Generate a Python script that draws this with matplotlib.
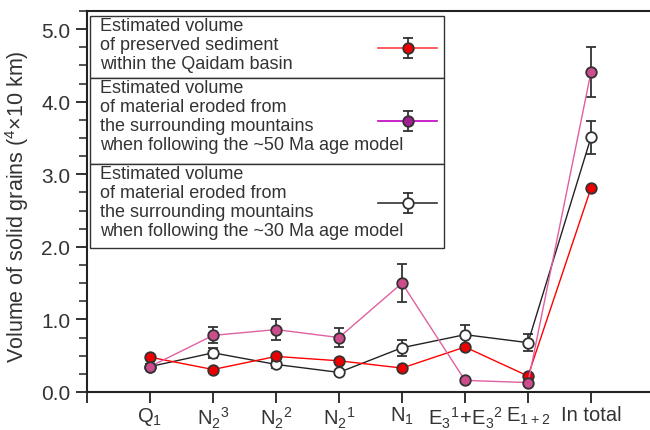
import matplotlib
matplotlib.use("Agg")
import matplotlib.pyplot as plt
from matplotlib.lines import Line2D
from matplotlib.patches import Rectangle
from matplotlib.ticker import MultipleLocator, FormatStrFormatter

plt.rcParams['font.family'] = ['Liberation Sans', 'DejaVu Sans']
plt.rcParams['text.color'] = '#333333'
plt.rcParams['axes.labelcolor'] = '#333333'

# stratigraphic units + total
units = [r'$\mathregular{Q_1}$',
         r'$\mathregular{N_2{}^3}$',
         r'$\mathregular{N_2{}^2}$',
         r'$\mathregular{N_2{}^1}$',
         r'$\mathregular{N_1}$',
         r'$\mathregular{E_3{}^1\!+\!E_3{}^2}$',
         r'$\mathregular{E_{1+2}}$',
         'In total']

# volumes (x10^4 km^3)
preserved = [0.48, 0.31, 0.49, 0.43, 0.33, 0.62, 0.22, 2.81]
eroded_50 = [0.35, 0.78, 0.86, 0.75, 1.50, 0.16, 0.13, 4.41]
eroded_50_err = [0.03, 0.11, 0.15, 0.13, 0.26, 0.0, 0.0, 0.35]
eroded_30 = [0.35, 0.54, 0.38, 0.27, 0.61, 0.79, 0.68, 3.51]
eroded_30_err = [0.03, 0.07, 0.05, 0.04, 0.11, 0.14, 0.115, 0.23]

W, H = 650, 431
fig = plt.figure(figsize=(W / 100, H / 100), dpi=100)
ax = fig.add_axes([87 / W, 38 / H, 598.5 / W, 381 / H])

x = list(range(1, len(units) + 1))
edge = '#333333'
ms = 7.6

ax.errorbar(x, eroded_30, yerr=eroded_30_err, color='#222222', lw=1.0,
            marker='o', ms=ms, mfc='white', mec=edge, mew=1.3,
            ecolor=edge, elinewidth=1.3, capsize=3.3, capthick=1.3, zorder=3)
ax.plot(x, preserved, color='#ff0000', lw=1.0, marker='o', ms=ms,
        mfc='#ee0000', mec=edge, mew=1.3, zorder=4)
ax.errorbar(x, eroded_50, yerr=eroded_50_err, color='#e060a0', lw=1.0,
            marker='o', ms=ms, mfc='#cc4c8c', mec=edge, mew=1.3,
            ecolor=edge, elinewidth=1.3, capsize=3.3, capthick=1.3, zorder=5)

ax.set_xlim(0, 9.5)
ax.set_ylim(0, 5.25)
ax.set_xticks(range(0, 9))
ax.set_xticklabels([''] + units)
ax.yaxis.set_major_locator(MultipleLocator(1))
ax.yaxis.set_minor_locator(MultipleLocator(0.25))
ax.yaxis.set_major_formatter(FormatStrFormatter('%.1f'))
ax.tick_params(axis='both', which='major', labelsize=15, length=8,
               width=1.3, color='#222222', labelcolor='#333333', pad=4)
ax.tick_params(axis='y', which='minor', length=6, width=1.1, color='#222222')
ax.tick_params(axis='x', pad=1.5, labelsize=14.5)
for s in ['left', 'top', 'bottom']:
    ax.spines[s].set_linewidth(1.5)
    ax.spines[s].set_color('#222222')
ax.spines['right'].set_visible(False)

ax.set_ylabel(r'Volume of solid grains ($\mathregular{{}^4}$×10 km)',
              fontsize=15.5)
ax.yaxis.set_label_coords(-0.093, 0.49)

# boxed key in the upper left
tf = fig.transFigure
def fx(px):
    return px / W
def fy(py):
    return 1 - py / H

rows = [
    (17, 79, 49, "Estimated volume\nof preserved sediment\nwithin the Qaidam basin",
     '#ff4040', '#ee0000'),
    (79, 165, 122, "Estimated volume\nof material eroded from\nthe surrounding mountains\n"
     "when following the ~50 Ma age model", '#c000c0', '#a0208f'),
    (165, 249, 204, "Estimated volume\nof material eroded from\nthe surrounding mountains\n"
     "when following the ~30 Ma age model", '#333333', 'white'),
]
for top, bot, ym, label, lc, fc in rows:
    fig.add_artist(Rectangle((fx(90), fy(bot)), fx(444) - fx(90), fy(top) - fy(bot),
                             transform=tf, fill=True, facecolor='white',
                             edgecolor='#333333', lw=1.0, zorder=6))
    fig.text(fx(100), fy(top + 1), label, ha='left', va='top', fontsize=13,
             linespacing=1.15, color='#333333', zorder=7)
    fig.add_artist(Line2D([fx(378), fx(437)], [fy(ym), fy(ym)], transform=tf,
                          color=lc, lw=1.2, zorder=7))
    fig.add_artist(Line2D([fx(408), fx(408)], [fy(ym - 10), fy(ym + 10)], transform=tf,
                          color=edge, lw=1.3, zorder=7))
    fig.add_artist(Line2D([fx(408), fx(408)], [fy(ym - 10), fy(ym + 10)], transform=tf,
                          ls='none', marker='_', ms=6.6, mew=1.3, color=edge, zorder=7))
    fig.add_artist(Line2D([fx(408)], [fy(ym)], transform=tf, ls='none', marker='o',
                          ms=ms, mfc=fc, mec=edge, mew=1.3, zorder=8))

fig.savefig('out.png', dpi=100)
